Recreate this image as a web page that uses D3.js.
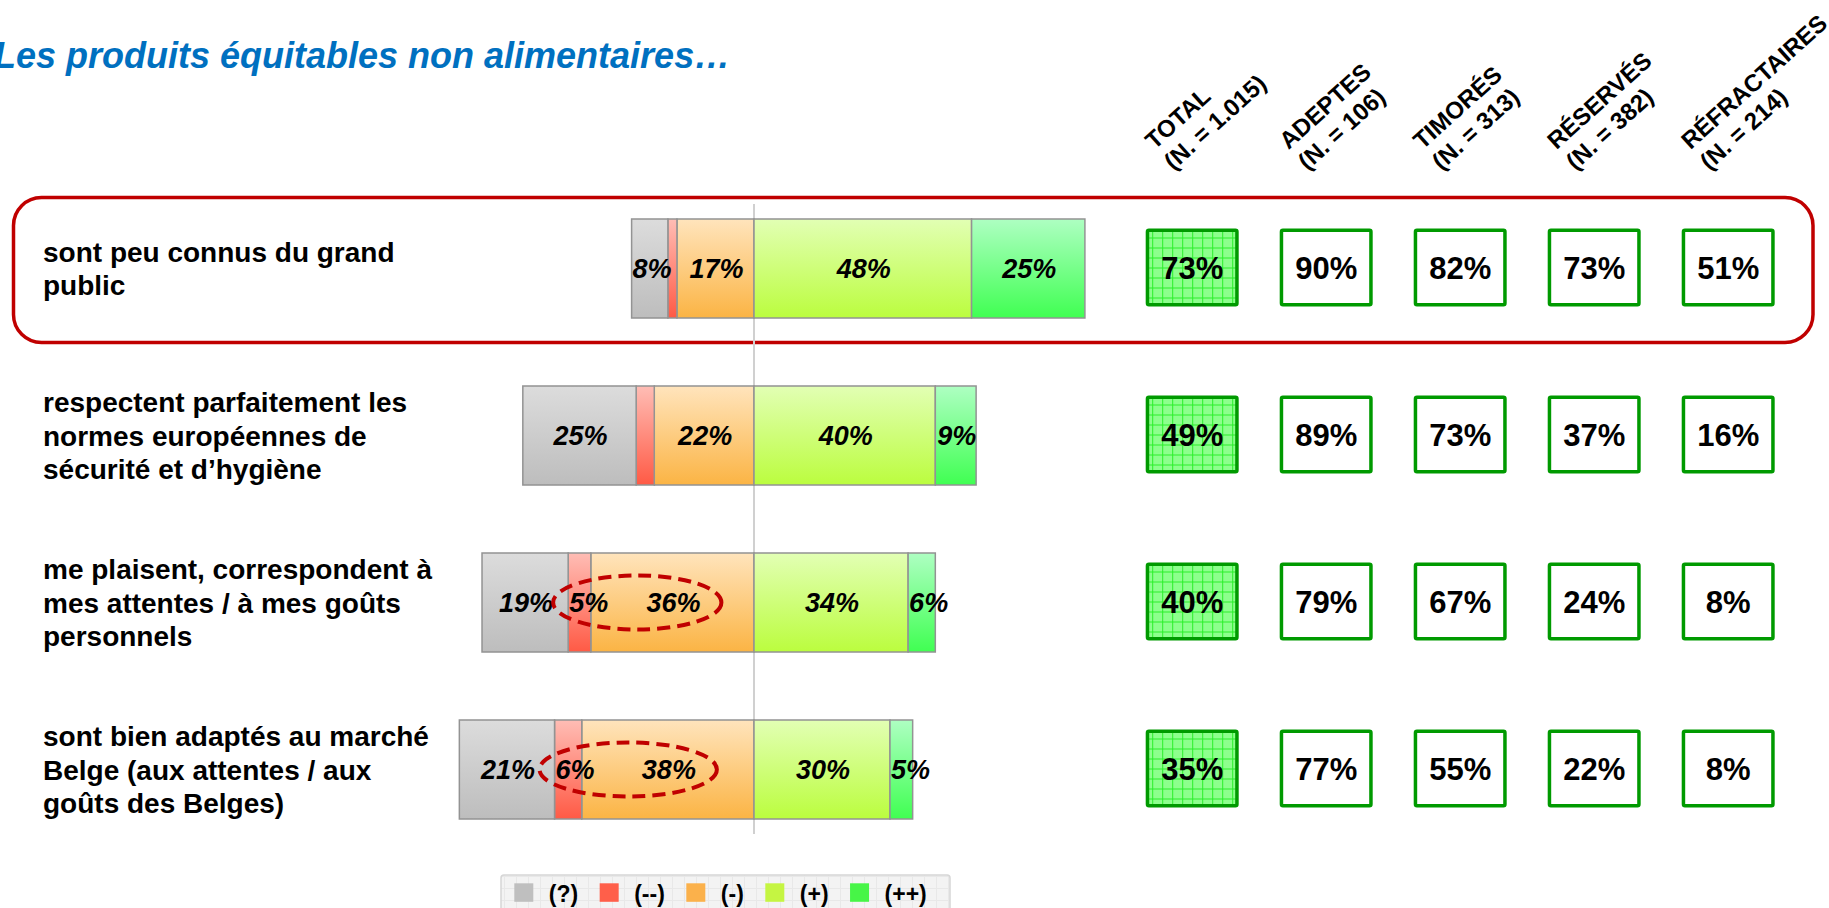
<!DOCTYPE html>
<html>
<head>
<meta charset="utf-8">
<script src="https://cdn.jsdelivr.net/npm/d3@7"></script>
<style>
  html, body { margin: 0; padding: 0; background: #fff; }
  svg { display: block; font-family: "Liberation Sans", Arial, sans-serif; }
</style>
</head>
<body>
<div class="canvas"></div>
<script>
const dims = { width: 1829, height: 908 };

// Data
const categories = [
    ['sont peu connus du grand', 'public'],
    ['respectent parfaitement les', 'normes européennes de', 'sécurité et d’hygiène'],
    ['me plaisent, correspondent à', 'mes attentes / à mes goûts', 'personnels'],
    ['sont bien adaptés au marché', 'Belge (aux attentes / aux', 'goûts des Belges)']
];
const dontKnow = [8, 25, 19, 21];
const veryNeg = [2, 4, 5, 6];
const neg = [17, 22, 36, 38];
const pos = [48, 40, 34, 30];
const veryPos = [25, 9, 6, 5];

const legendLabels = ['(?)', '(--)', '(-)', '(+)', '(++)'];

const groups = ['TOTAL', 'ADEPTES', 'TIMORÉS', 'RÉSERVÉS', 'RÉFRACTAIRES'];
const groupN = ['1.015', '106', '313', '382', '214'];
const agree = [
    [73, 49, 40, 35],
    [90, 89, 79, 77],
    [82, 73, 67, 55],
    [73, 37, 24, 22],
    [51, 16, 8, 8]
];

const highlightedRows = [0];
const circledRows = [2, 3];

const keys = ['dk', 'vneg', 'neg', 'pos', 'vpos'];
const colors = {
    dk:   { top: '#DCDCDC', bottom: '#BDBDBD', swatch: '#BFBFBF' },
    vneg: { top: '#FFBDB5', bottom: '#FF5A45', swatch: '#FF5F4A' },
    neg:  { top: '#FFE4BC', bottom: '#FBB444', swatch: '#FBB14B' },
    pos:  { top: '#E2FFB4', bottom: '#BBFD3E', swatch: '#C5F542' },
    vpos: { top: '#AEFFC2', bottom: '#40FF52', swatch: '#47F547' }
};

const rows = categories.map((c, i) => ({
    i, lines: c,
    dk: dontKnow[i], vneg: veryNeg[i], neg: neg[i], pos: pos[i], vpos: veryPos[i]
}));

const svg = d3.select('.canvas')
    .append('svg')
    .attr('width', dims.width)
    .attr('height', dims.height);

const defs = svg.append('defs');

keys.forEach(k => {
    const g = defs.append('linearGradient')
        .attr('id', `grad-${k}`)
        .attr('x1', 0).attr('y1', 0).attr('x2', 0).attr('y2', 1);
    g.append('stop').attr('offset', '0%').attr('stop-color', colors[k].top);
    g.append('stop').attr('offset', '100%').attr('stop-color', colors[k].bottom);
});

// green grid pattern for the TOTAL boxes
const pat = defs.append('pattern')
    .attr('id', 'gridGreen')
    .attr('patternUnits', 'userSpaceOnUse')
    .attr('width', 10).attr('height', 10);
pat.append('rect').attr('width', 10).attr('height', 10).attr('fill', '#8DFF8D');
pat.append('path').attr('d', 'M0,0.5H10M0.5,0V10').attr('stroke', '#2AEF2A').attr('stroke-width', 1);

// light grid for the legend
const patL = defs.append('pattern')
    .attr('id', 'gridGray')
    .attr('patternUnits', 'userSpaceOnUse')
    .attr('width', 12).attr('height', 12);
patL.append('rect').attr('width', 12).attr('height', 12).attr('fill', '#F3F3F3');
patL.append('path').attr('d', 'M0,0.5H12M0.5,0V12').attr('stroke', '#E8E8E8').attr('stroke-width', 1);

// Scales
const x = d3.scaleLinear()
    .domain([-60, 60])
    .range([754 - 60 * 4.533, 754 + 60 * 4.533]);

const y = d3.scalePoint()
    .domain(d3.range(rows.length))
    .range([268.5, 769.5]);

const barH = 99;

const xg = d3.scalePoint()
    .domain(groups)
    .range([1192.2, 1728.2]);

// Title
svg.append('text')
    .attr('x', -6)
    .attr('y', 68)
    .attr('fill', '#0070C0')
    .attr('font-size', 36)
    .attr('font-weight', 'bold')
    .attr('font-style', 'italic')
    .text('Les produits équitables non alimentaires…');

// Highlight frame
highlightedRows.forEach(r => {
    svg.append('rect')
        .attr('x', 13.5)
        .attr('y', y(r) - 71)
        .attr('width', 1813 - 13.5)
        .attr('height', 145)
        .attr('rx', 28)
        .attr('fill', 'none')
        .attr('stroke', '#C00000')
        .attr('stroke-width', 3.5);
});

// Center line
svg.append('line')
    .attr('x1', x(0)).attr('x2', x(0))
    .attr('y1', 204).attr('y2', 834)
    .attr('stroke', '#D0D0D0')
    .attr('stroke-width', 2);

// Row labels
const labels = svg.append('g').selectAll('text')
    .data(rows)
    .enter()
    .append('text')
    .attr('font-size', 28)
    .attr('font-weight', 'bold')
    .attr('fill', '#000');

labels.each(function(d) {
    const n = d.lines.length;
    d3.select(this).selectAll('tspan')
        .data(d.lines)
        .enter()
        .append('tspan')
        .attr('x', 43)
        .attr('y', (l, j) => y(d.i) + (j - (n - 1) / 2) * 33.5 + 10)
        .text(l => l);
});

// Stacked diverging segments
const segments = rows.flatMap(d => {
    const out = [];
    let acc = 0;
    ['neg', 'vneg', 'dk'].forEach(k => {
        out.push({ row: d.i, key: k, value: d[k], x0: -(acc + d[k]), x1: -acc });
        acc += d[k];
    });
    acc = 0;
    ['pos', 'vpos'].forEach(k => {
        out.push({ row: d.i, key: k, value: d[k], x0: acc, x1: acc + d[k] });
        acc += d[k];
    });
    return out;
});

const bars = svg.append('g');

bars.selectAll('rect')
    .data(segments)
    .enter()
    .append('rect')
    .attr('x', d => x(d.x0))
    .attr('y', d => y(d.row) - barH / 2)
    .attr('width', d => x(d.x1) - x(d.x0))
    .attr('height', barH)
    .attr('fill', d => `url(#grad-${d.key})`)
    .attr('stroke', '#939393')
    .attr('stroke-width', 1.5);

// labels: centred, but pushed to the segment start when wider than the segment
bars.selectAll('text')
    .data(segments.filter(d => d.value >= 5))
    .enter()
    .append('text')
    .attr('font-size', 27)
    .attr('font-weight', 'bold')
    .attr('font-style', 'italic')
    .attr('text-anchor', 'middle')
    .attr('y', d => y(d.row))
    .attr('dy', '0.36em')
    .text(d => `${d.value}%`)
    .each(function(d) {
        const w = this.getComputedTextLength();
        const segW = x(d.x1) - x(d.x0);
        d3.select(this).attr('x', x(d.x0) + Math.max(segW, w) / 2 + 1);
    });

// Dashed ellipses around (--) and (-)
circledRows.forEach(r => {
    const d = rows[r];
    const left = x(-(d.vneg + d.neg)) - 15;
    const right = x(-d.neg / 2) + 49;
    svg.append('ellipse')
        .attr('cx', (left + right) / 2)
        .attr('cy', y(r))
        .attr('rx', (right - left) / 2)
        .attr('ry', 27)
        .attr('fill', 'none')
        .attr('stroke', '#C00000')
        .attr('stroke-width', 4)
        .attr('stroke-dasharray', '13,7');
});

// Column headers
const heads = svg.append('g').selectAll('g')
    .data(groups)
    .enter()
    .append('g')
    .attr('transform', g => `translate(${xg(g) - 19}, 171) rotate(-42)`);

heads.append('text')
    .attr('font-size', 24)
    .attr('font-weight', 'bold')
    .attr('y', -28)
    .text(g => g);

heads.append('text')
    .attr('font-size', 24)
    .attr('font-weight', 'bold')
    .attr('y', 0)
    .text((g, i) => `(N. = ${groupN[i]})`);

// Boxes per group
const boxW = 89.5, boxH = 74.5;
const cells = groups.flatMap((g, gi) => agree[gi].map((v, r) => ({ g, gi, r, v })));

const boxes = svg.append('g').selectAll('g')
    .data(cells)
    .enter()
    .append('g')
    .attr('transform', d => `translate(${xg(d.g)}, ${y(d.r) - 1})`);

boxes.append('rect')
    .attr('x', -boxW / 2)
    .attr('y', -boxH / 2)
    .attr('width', boxW)
    .attr('height', boxH)
    .attr('rx', 1.5)
    .attr('fill', d => d.gi === 0 ? 'url(#gridGreen)' : '#fff')
    .attr('stroke', '#009A00')
    .attr('stroke-width', 3.5);

boxes.append('text')
    .attr('text-anchor', 'middle')
    .attr('dy', '0.36em')
    .attr('font-size', 31)
    .attr('font-weight', 'bold')
    .text(d => `${d.v}%`);

// Legend
const legendGroup = svg.append('g');
legendGroup.append('rect')
    .attr('x', 501)
    .attr('y', 875)
    .attr('width', 449)
    .attr('height', 44)
    .attr('rx', 3)
    .attr('fill', 'url(#gridGray)')
    .attr('stroke', '#D6D6D6')
    .attr('stroke-width', 1.5);

let lx = 514.3;
keys.forEach((k, i) => {
    legendGroup.append('rect')
        .attr('x', lx).attr('y', 883.3)
        .attr('width', 19).attr('height', 18.5)
        .attr('fill', colors[k].swatch);
    const t = legendGroup.append('text')
        .attr('x', lx + 34.5)
        .attr('y', 902)
        .attr('font-size', 23)
        .attr('font-weight', 'bold')
        .text(legendLabels[i]);
    lx = lx + 34.5 + t.node().getComputedTextLength() + 21.5;
});
</script>
</body>
</html>
